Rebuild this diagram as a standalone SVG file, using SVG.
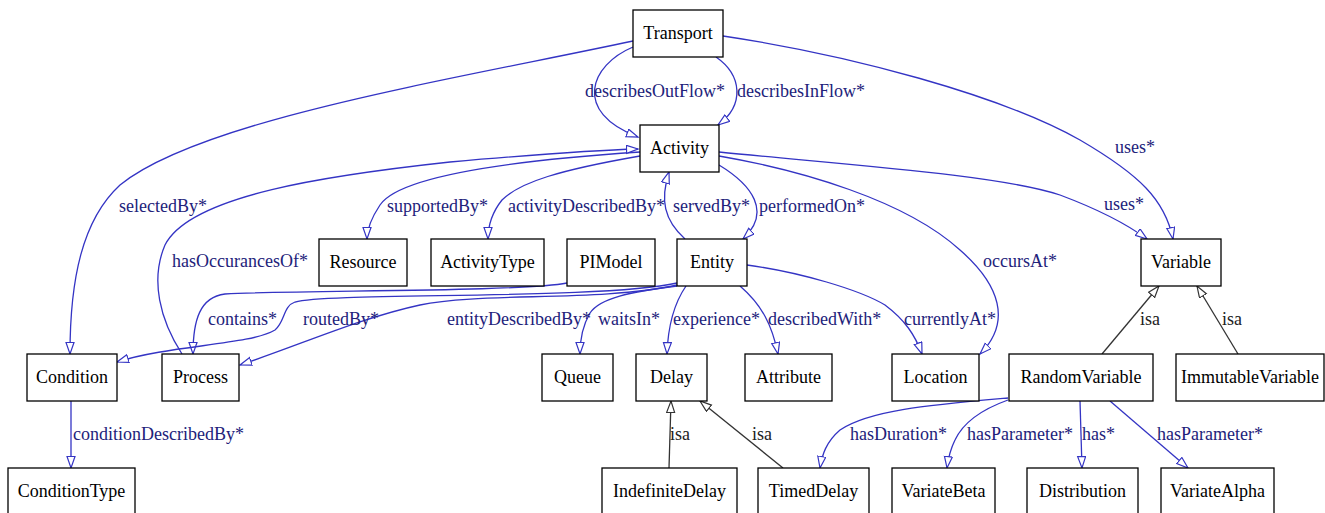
<svg xmlns="http://www.w3.org/2000/svg" width="1325" height="513" viewBox="0 0 1325 513" font-family="'Liberation Serif', 'Times New Roman', Times, 'DejaVu Serif', serif">
<style>
.n rect{fill:#fff;stroke:#000;stroke-width:1.3}
.n text{font-family:'Liberation Serif','Times New Roman',Times,'DejaVu Serif',serif;font-size:18px;fill:#000;text-anchor:middle}
.e path{fill:none;stroke:#3434c4;stroke-width:1.3}
.e path.isa{stroke:#333}
.lbl{font-family:'Liberation Serif','Times New Roman',Times,'DejaVu Serif',serif;font-size:18px;fill:#22227a}
.lbl.isa{fill:#222}
</style>
<defs>
<marker id="ab" markerUnits="userSpaceOnUse" markerWidth="14" markerHeight="10" refX="12" refY="4.5" orient="auto"><path d="M0.5,0.5 L12,4.5 L0.5,8.5 z" fill="#fff" stroke="#3434c4" stroke-width="1.2"/></marker>
<marker id="ai" markerUnits="userSpaceOnUse" markerWidth="14" markerHeight="10" refX="12" refY="4.5" orient="auto"><path d="M0.5,0.5 L12,4.5 L0.5,8.5 z" fill="#fff" stroke="#333" stroke-width="1.2"/></marker>
</defs>
<rect width="1325" height="513" fill="#fff"/>
<g id="connectors" class="e">
<path d="M633,47 C590,65 572,112 638,137" marker-end="url(#ab)"/>
<path d="M716,57 C742,75 745,105 718,125" marker-end="url(#ab)"/>
<path d="M633,41 C450,80 200,120 120,185 C82,220 70,280 70,354" marker-end="url(#ab)"/>
<path d="M723,36 C850,55 1000,95 1080,140 C1140,175 1165,200 1173,239" marker-end="url(#ab)"/>
<path d="M719,152 C850,165 1000,175 1060,195 C1100,210 1128,225 1147,239" marker-end="url(#ab)"/>
<path d="M719,156 C800,170 905,200 960,250 C1000,285 1012,322 980,354" marker-end="url(#ab)"/>
<path d="M719,165 C752,185 772,212 743,239" marker-end="url(#ab)"/>
<path d="M685,239 C664,220 660,200 669,172" marker-end="url(#ab)"/>
<path d="M640,152 C520,160 400,175 380,205 C370,220 367,230 367,239" marker-end="url(#ab)"/>
<path d="M640,156 C560,170 520,182 502,200 C490,215 488,228 488,239" marker-end="url(#ab)"/>
<path d="M182,354 C160,320 150,280 165,245 C190,195 330,175 450,162 C530,155 600,150 638,149" marker-end="url(#ab)"/>
<path d="M567,283 C520,292 300,290 225,294 C200,297 193,320 193,354" marker-end="url(#ab)"/>
<path d="M677,283 C600,300 330,292 295,302 C283,306 285,322 275,330 C250,345 170,345 117,362" marker-end="url(#ab)"/>
<path d="M677,285 C600,302 480,292 420,305 C360,318 300,345 240,365" marker-end="url(#ab)"/>
<path d="M677,286 C630,292 600,298 590,313 C583,325 580,340 580,354" marker-end="url(#ab)"/>
<path d="M686,286 C675,302 668,325 667,354" marker-end="url(#ab)"/>
<path d="M740,286 C762,305 772,325 778,354" marker-end="url(#ab)"/>
<path d="M747,265 C800,272 860,290 885,305 C905,320 915,335 922,354" marker-end="url(#ab)"/>
<path d="M71,401 L71,468" marker-end="url(#ab)"/>
<path d="M1008,398 C930,405 870,410 840,430 C826,442 822,455 820,468" marker-end="url(#ab)"/>
<path d="M1008,400 C980,410 963,423 955,440 C950,450 948,460 947,468" marker-end="url(#ab)"/>
<path d="M1080,401 L1082,468" marker-end="url(#ab)"/>
<path d="M1110,401 L1188,468" marker-end="url(#ab)"/>
<path class="isa" d="M1102,354 L1159,286" marker-end="url(#ai)"/>
<path class="isa" d="M1238,354 L1197,286" marker-end="url(#ai)"/>
<path class="isa" d="M669,468 L671,401" marker-end="url(#ai)"/>
<path class="isa" d="M783,468 L700,401" marker-end="url(#ai)"/>
<text class="lbl" x="585" y="97">describesOutFlow*</text>
<text class="lbl" x="737" y="97">describesInFlow*</text>
<text class="lbl" x="119" y="212">selectedBy*</text>
<text class="lbl" x="1115" y="153">uses*</text>
<text class="lbl" x="1104" y="210">uses*</text>
<text class="lbl" x="983" y="267">occursAt*</text>
<text class="lbl" x="759" y="212">performedOn*</text>
<text class="lbl" x="673" y="212">servedBy*</text>
<text class="lbl" x="387" y="212">supportedBy*</text>
<text class="lbl" x="508" y="212">activityDescribedBy*</text>
<text class="lbl" x="172" y="267">hasOccurancesOf*</text>
<text class="lbl" x="208" y="325">contains*</text>
<text class="lbl" x="303" y="325">routedBy*</text>
<text class="lbl" x="447" y="325">entityDescribedBy*</text>
<text class="lbl" x="598" y="325">waitsIn*</text>
<text class="lbl" x="673" y="325">experience*</text>
<text class="lbl" x="768" y="325">describedWith*</text>
<text class="lbl" x="904" y="325">currentlyAt*</text>
<text class="lbl" x="73" y="440">conditionDescribedBy*</text>
<text class="lbl" x="850" y="440">hasDuration*</text>
<text class="lbl" x="967" y="440">hasParameter*</text>
<text class="lbl" x="1082" y="440">has*</text>
<text class="lbl" x="1157" y="440">hasParameter*</text>
<text class="lbl isa" x="1140" y="325">isa</text>
<text class="lbl isa" x="1222" y="325">isa</text>
<text class="lbl isa" x="670" y="440">isa</text>
<text class="lbl isa" x="752" y="440">isa</text>
</g>
<g id="Transport" class="n"><rect x="633" y="10" width="90" height="47"/><text x="678" y="39">Transport</text></g>
<g id="Activity" class="n"><rect x="640" y="125" width="79" height="47"/><text x="679.5" y="154">Activity</text></g>
<g id="Resource" class="n"><rect x="319" y="239" width="88" height="47"/><text x="363" y="268">Resource</text></g>
<g id="ActivityType" class="n"><rect x="431" y="239" width="113" height="47"/><text x="487.5" y="268">ActivityType</text></g>
<g id="PIModel" class="n"><rect x="567" y="239" width="88" height="47"/><text x="611" y="268">PIModel</text></g>
<g id="Entity" class="n"><rect x="677" y="239" width="70" height="47"/><text x="712" y="268">Entity</text></g>
<g id="Variable" class="n"><rect x="1141" y="239" width="80" height="47"/><text x="1181" y="268">Variable</text></g>
<g id="Condition" class="n"><rect x="27" y="354" width="90" height="47"/><text x="72" y="383">Condition</text></g>
<g id="Process" class="n"><rect x="162" y="354" width="77" height="47"/><text x="200.5" y="383">Process</text></g>
<g id="Queue" class="n"><rect x="542" y="354" width="71" height="47"/><text x="577.5" y="383">Queue</text></g>
<g id="Delay" class="n"><rect x="636" y="354" width="71" height="47"/><text x="671.5" y="383">Delay</text></g>
<g id="Attribute" class="n"><rect x="745" y="354" width="87" height="47"/><text x="788.5" y="383">Attribute</text></g>
<g id="Location" class="n"><rect x="892" y="354" width="87" height="47"/><text x="935.5" y="383">Location</text></g>
<g id="RandomVariable" class="n"><rect x="1009" y="354" width="144" height="47"/><text x="1081" y="383">RandomVariable</text></g>
<g id="ImmutableVariable" class="n"><rect x="1176" y="354" width="148" height="47"/><text x="1250" y="383">ImmutableVariable</text></g>
<g id="ConditionType" class="n"><rect x="8" y="468" width="127" height="47"/><text x="71.5" y="497">ConditionType</text></g>
<g id="IndefiniteDelay" class="n"><rect x="602" y="468" width="135" height="47"/><text x="669.5" y="497">IndefiniteDelay</text></g>
<g id="TimedDelay" class="n"><rect x="758" y="468" width="111" height="47"/><text x="813.5" y="497">TimedDelay</text></g>
<g id="VariateBeta" class="n"><rect x="892" y="468" width="103" height="47"/><text x="943.5" y="497">VariateBeta</text></g>
<g id="Distribution" class="n"><rect x="1027" y="468" width="111" height="47"/><text x="1082.5" y="497">Distribution</text></g>
<g id="VariateAlpha" class="n"><rect x="1161" y="468" width="113" height="47"/><text x="1217.5" y="497">VariateAlpha</text></g>
</svg>
